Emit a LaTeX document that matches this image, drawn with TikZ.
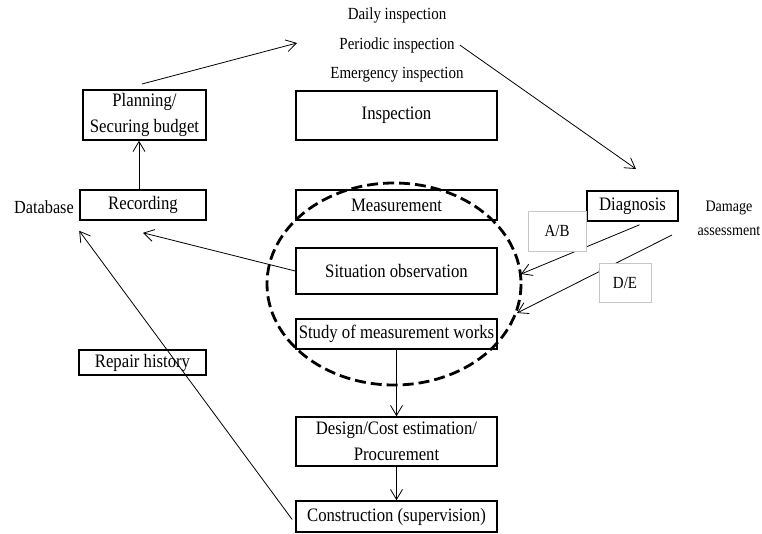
\documentclass[tikz,border=0pt]{standalone}
\usepackage{fontspec}
\setmainfont{Liberation Serif}[FakeStretch=0.88]
\usetikzlibrary{arrows.meta}

\tikzset{
  box/.style={draw, line width=1.6pt, minimum width=201pt, inner sep=0pt, align=center,
    font=\fontsize{19}{26}\selectfont},
  grade/.style={draw=gray!45, fill=white, line width=0.8pt, inner sep=0pt,
    font=\fontsize{17}{20}\selectfont},
  lbl/.style={inner sep=0pt, align=center, font=\fontsize{17}{24}\selectfont},
  arr/.style={line width=0.8pt, -{Straight Barb[length=10pt,width=12pt,line width=0.8pt]}}
}

\begin{document}
\begin{tikzpicture}[x=1pt, y=-1pt]
  \useasboundingbox (0,0) rectangle (762,533);

  % inspection kinds
  \node[lbl] (daily) at (397,15) {Daily inspection};
  \node[lbl] (periodic) at (397,45) {Periodic inspection};
  \node[lbl] (emergency) at (397,75) {Emergency inspection};

  % left column
  \node[box, minimum width=123pt, minimum height=50pt] (plan) at (144.5,115) {Planning/\\Securing budget};
  \node[box, minimum width=126pt, minimum height=30pt] (rec) at (143,205) {Recording};
  \node[lbl, anchor=east, font=\fontsize{18.5}{24}\selectfont] (db) at (74,207) {Database};
  \node[box, minimum width=127pt, minimum height=25pt] (repair) at (142.5,362.5) {Repair history};

  % middle column
  \node[box, minimum height=49pt] (insp) at (396.5,115.5) {Inspection};
  \node[box, minimum height=30pt] (meas) at (396.5,205) {Measurement};
  \node[box, minimum height=46pt] (sit) at (396.5,271) {Situation observation};
  \node[box, minimum height=30pt] (study) at (396.5,334) {Study of measurement works};
  \node[box, minimum height=49pt] (design) at (396.5,441.5) {Design/Cost estimation/\\Procurement};
  \node[box, minimum height=31pt] (constr) at (396.5,516.5) {Construction (supervision)};

  % right column
  \node[box, minimum width=91pt, minimum height=30pt] (diag) at (632.5,206) {Diagnosis};
  \node[lbl, font=\fontsize{16}{24}\selectfont] (damage) at (729,218) {Damage\\assessment};

  % free ends
  \coordinate (planout) at (142,84);
  \coordinate (inspin) at (297,43);
  \coordinate (diagin) at (636,169);
  \coordinate (abend) at (521,274);
  \coordinate (destart) at (672,235);
  \coordinate (deend) at (517,313);

  % connectors
  \draw[arr] ([xshift=-4pt]rec.north) -- ([xshift=-5.5pt]plan.south);
  \draw[arr] (planout) -- (inspin);
  \draw[arr] ([xshift=5pt]periodic.east) -- (diagin);
  \draw[arr] (sit.west) -- ([yshift=-12pt]rec.south);
  \draw[arr] ([xshift=-3pt,yshift=-3pt]constr.west) -- ([yshift=-10pt]rec.south west);
  \draw[arr] ([xshift=7pt,yshift=-3pt]diag.south) -- (abend);
  \draw[arr] (destart) -- (deend);
  \draw[arr] (study.south) -- (design.north);
  \draw[arr] (design.south) -- (constr.north);

  % grades
  \node[grade, minimum width=58pt, minimum height=40pt] (ab) at (557,231) {A/B};
  \node[grade, minimum width=52pt, minimum height=39pt] (de) at (625,282.5) {D/E};

  % measurement group
  \draw[line width=2.8pt, dash pattern=on 11pt off 5pt] (394,284) ellipse (127 and 101);
\end{tikzpicture}
\end{document}
